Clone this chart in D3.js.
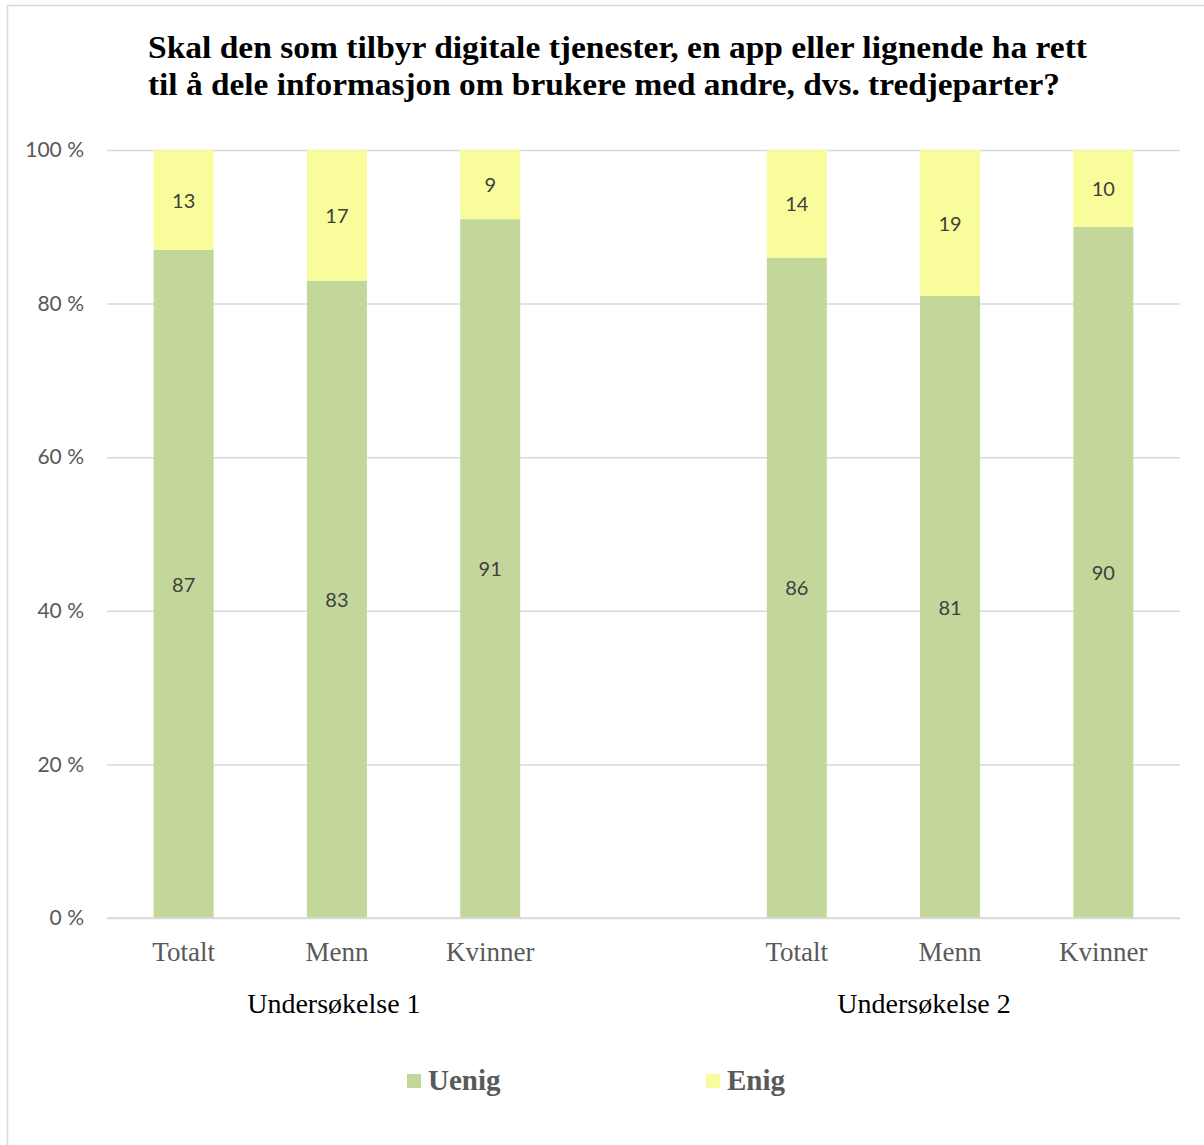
<!DOCTYPE html>
<html><head><meta charset="utf-8">
<script src="https://cdn.jsdelivr.net/npm/d3@7"></script>
<style>body{margin:0;background:#fff}</style>
</head><body>
<svg id="c" width="1204" height="1145"></svg>
<script>
const titleLines = ["Skal den som tilbyr digitale tjenester, en app eller lignende ha rett","til å dele informasjon om brukere med andre, dvs. tredjeparter?"];
const slots = ["U1-Totalt","U1-Menn","U1-Kvinner","gap","U2-Totalt","U2-Menn","U2-Kvinner"];
const categories = ["Totalt","Menn","Kvinner","","Totalt","Menn","Kvinner"];
const groups = [{name:"Undersøkelse 1", from:0, to:2},{name:"Undersøkelse 2", from:4, to:6}];
const uenig = [87,83,91,null,86,81,90];
const enig  = [13,17,9,null,14,19,10];
const seriesNames = ["Uenig","Enig"];
const colors = ["#c4d79b","#f8fc9b"];
const yTicks = [0,20,40,60,80,100];

const svg = d3.select("#c");
svg.append("rect").attr("x",7.5).attr("y",5.5).attr("width",1210).attr("height",1150)
  .attr("fill","#fff").attr("stroke","#d9d9d9").attr("stroke-width",1.5);

const pL=107, pR=1180, pT=150, pB=918;
const x = d3.scaleBand().domain(slots).range([pL,pR]).paddingInner(0).paddingOuter(0);
const y = d3.scaleLinear().domain([0,100]).range([pB,pT]);
const barW = 60;
const serif = "'Liberation Serif','Times New Roman',serif";
const sans = "Lato,'Liberation Sans',sans-serif";

const titleW = [939, 912];
const t = svg.append("text").attr("font-family",serif)
  .attr("font-weight","bold").attr("font-size",31).attr("fill","#000");
titleLines.forEach((l,i)=>t.append("tspan").attr("x",148).attr("y",58+i*37)
  .attr("textLength",titleW[i]).attr("lengthAdjust","spacingAndGlyphs").text(l));

const yAxis = d3.axisLeft(y).tickValues(yTicks).tickSize(-(pR-pL)).tickFormat(d=>d+" %");
const ga = svg.append("g").attr("transform",`translate(${pL},0)`).call(yAxis);
ga.select(".domain").remove();
ga.selectAll(".tick line").attr("stroke","#d9d9d9").attr("stroke-width",1.5);
ga.selectAll(".tick text").attr("x",-23).attr("font-family",sans)
  .attr("font-size",21).attr("fill","#595959");

const data = slots.map((s,i)=>({s,u:uenig[i],e:enig[i]})).filter(d=>d.u!=null);
const g = svg.append("g");
data.forEach(d=>{
  const cx = x(d.s)+x.bandwidth()/2;
  const segs = [{v0:0,v1:d.u,c:colors[0]},{v0:d.u,v1:d.u+d.e,c:colors[1]}];
  const val=[d.u,d.e];
  segs.forEach((sg,k)=>{
    g.append("rect").attr("x",cx-barW/2).attr("width",barW)
      .attr("y",y(sg.v1)).attr("height",y(sg.v0)-y(sg.v1)).attr("fill",sg.c);
    g.append("text").attr("x",cx).attr("y",y((sg.v0+sg.v1)/2)).attr("dy","0.38em")
      .attr("text-anchor","middle").attr("font-family",sans)
      .attr("font-size",20).attr("fill","#404040").text(val[k]);
  });
});
svg.append("line").attr("x1",pL).attr("x2",pR).attr("y1",pB).attr("y2",pB)
  .attr("stroke","#d9d9d9").attr("stroke-width",1.5);

slots.forEach((s,i)=>{
  if(!categories[i]) return;
  svg.append("text").attr("x",x(s)+x.bandwidth()/2).attr("y",961).attr("text-anchor","middle")
    .attr("font-family",serif).attr("font-size",27)
    .attr("fill","#595959").text(categories[i]);
});
const groupShift = [-3,-26];
groups.forEach((gr,i)=>{
  const cx = (x(slots[gr.from]) + x(slots[gr.to])+x.bandwidth())/2 + groupShift[i];
  svg.append("text").attr("x",cx).attr("y",1013).attr("text-anchor","middle")
    .attr("font-family",serif).attr("font-size",28)
    .attr("fill","#000").text(gr.name);
});

const legX=[407,706];
seriesNames.forEach((n,i)=>{
  svg.append("rect").attr("x",legX[i]).attr("y",1074).attr("width",14).attr("height",14).attr("fill",colors[i]);
  svg.append("text").attr("x",legX[i]+21).attr("y",1090)
    .attr("font-family",serif).attr("font-weight","bold")
    .attr("font-size",29).attr("fill","#595959").text(n);
});
</script>
</body></html>
